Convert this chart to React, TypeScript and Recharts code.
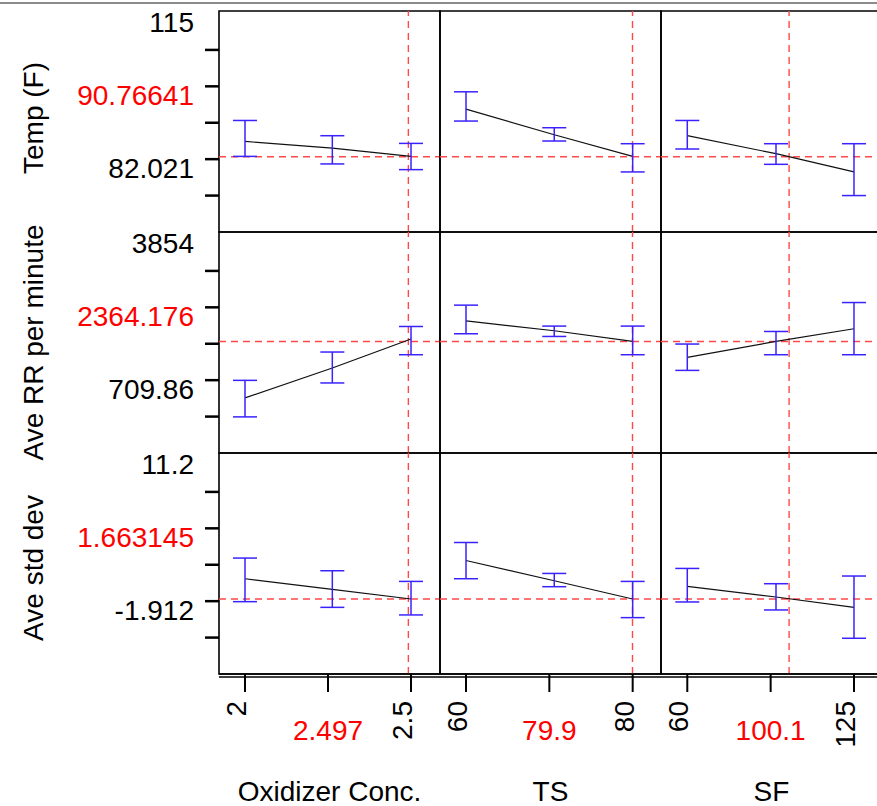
import React from 'react';
import {
  ComposedChart,
  Line,
  Scatter,
  ErrorBar,
  XAxis,
  YAxis,
  ReferenceLine,
  ReferenceArea
} from 'recharts';

const FONT = '"Liberation Sans", Arial, sans-serif';
const RED_LINE = '#ff4848';
const RED_TEXT = '#ff0000';
const BLUE = '#3a22ff';

// factors (columns)
const factorNames = ['Oxidizer Conc.', 'TS', 'SF'];
const factorTicks = [[2, 2.25, 2.5], [60, 70, 80], [60, 92.5, 125]];
const factorTickLabels = [['2', '2.497', '2.5'], ['60', '79.9', '80'], ['60', '100.1', '125']];
const factorDomains = [[1.9217, 2.5873], [56.88, 83.4], [49.75, 135.92]];
const factorCurrent = [2.492, 79.98, 99.7];
const factorLevels = [[2, 2.263, 2.5], [60, 70.59, 80], [60, 94.59, 125]];

// responses (rows)
const responseNames = ['Temp (F)', 'Ave RR per minute', 'Ave std dev'];
const responseTicks = [
  [115, 106.755, 98.51, 90.265, 82.021, 73.776],
  [3854, 3067.97, 2281.93, 1495.9, 709.86, -76.18],
  [11.2, 7.922, 4.644, 1.366, -1.912, -5.19]
];
const responseTickLabels = [
  ['115', '', '90.76641', '', '82.021', ''],
  ['3854', '', '2364.176', '', '709.86', ''],
  ['11.2', '', '1.663145', '', '-1.912', '']
];
const responseDomains = [[65.53, 115.566], [-862.2, 3907.95], [-8.468, 11.425]];
const responseCurrent = [82.58, 1545.4, -1.715];

// profile traces, one row of 3 values (low, mid, high level) per factor
const tempProfile = [[86.04, 84.5, 82.65], [93.36, 87.55, 82.65], [87.33, 83.26, 79.13]];
const tempUpper = [[90.78, 87.33, 85.59], [97.27, 89.14, 85.52], [90.78, 85.52, 85.52]];
const tempLower = [[82.65, 80.94, 79.65], [90.65, 86.13, 79.13], [84.32, 80.85, 73.78]];

const rrProfile = [[326.6, 972.6, 1597.1], [1991.2, 1775.9, 1545.4], [1200.9, 1545.4, 1819]];
const rrUpper = [[705.6, 1317.2, 1868.5], [2329.3, 1877.1, 1877.1], [1489.5, 1760.8, 2385.3]];
const rrLower = [[-82.6, 649.6, 1259], [1711.3, 1653.1, 1259], [920.9, 1259, 1259]];

const stdProfile = [[0.108, -0.853, -1.715], [1.752, -0.071, -1.715], [-0.583, -1.535, -2.469]];
const stdUpper = [[1.968, 0.827, -0.134], [3.369, 0.584, -0.134], [1.034, -0.341, 0.351]];
const stdLower = [[-1.957, -2.469, -3.152], [0.108, -0.61, -3.394], [-1.984, -2.703, -5.253]];

const profiles = [tempProfile, rrProfile, stdProfile];
const uppers = [tempUpper, rrUpper, stdUpper];
const lowers = [tempLower, rrLower, stdLower];

// layout
const PLOT = 221;
const LEFT = 219;
const TOP = 11;
const AXIS_H = 132;
const titleOffsets = [-3.5, 0, 4.5];

const makeYTick = (r: number) => (props: any) => {
  const { y, index } = props;
  const label = responseTickLabels[r][index];
  return (
    <g>
      {index > 0 && <line x1={205} x2={LEFT} y1={y} y2={y} stroke="#000" strokeWidth={2.5} />}
      {label && (
        <text x={194} y={y + 18.5} textAnchor="end" fontSize={28} fontFamily={FONT}
          fill={index === 2 ? RED_TEXT : '#000'}>
          {label}
        </text>
      )}
    </g>
  );
};

const makeXTick = (c: number) => (props: any) => {
  const { x, index } = props;
  const label = factorTickLabels[c][index];
  if (index === 1) {
    return (
      <text x={x} y={PLOT + 66} textAnchor="middle" fontSize={28} fontFamily={FONT} fill={RED_TEXT}>
        {label}
      </text>
    );
  }
  const tx = x + 1;
  const ty = PLOT + 27;
  return (
    <text x={tx} y={ty} transform={`rotate(-90 ${tx} ${ty})`} textAnchor="end" fontSize={28} fontFamily={FONT} fill="#000">
      {label}
    </text>
  );
};

const Panel = ({ r, c }: { r: number; c: number }) => {
  const isLeft = c === 0;
  const isBottom = r === 2;
  const width = PLOT + (isLeft ? LEFT : 0);
  const height = PLOT + (isBottom ? AXIS_H : 0);
  const left = isLeft ? 0 : LEFT + c * PLOT;
  const top = TOP + r * PLOT;
  const xDom = factorDomains[c];
  const yDom = responseDomains[r];

  const curve = factorLevels[c].map((x, i) => ({ x, y: profiles[r][c][i] }));
  const bars = factorLevels[c].map((x, i) => {
    const hi = uppers[r][c][i];
    const lo = lowers[r][c][i];
    return { x, y: (hi + lo) / 2, e: (hi - lo) / 2 };
  });

  const plotX = isLeft ? LEFT : 0;

  return (
    <div style={{ position: 'absolute', left, top, width, height }}>
      <ComposedChart width={width} height={height} data={curve} margin={{ top: 0, right: 0, bottom: 0, left: 0 }}>
        <XAxis
          type="number"
          dataKey="x"
          domain={xDom}
          ticks={factorTicks[c]}
          allowDataOverflow
          hide={!isBottom}
          height={AXIS_H}
          interval={0}
          tickSize={18}
          tickLine={{ stroke: '#000', strokeWidth: 2 }}
          axisLine={{ stroke: '#000', strokeWidth: 1.6 }}
          tick={makeXTick(c)}
          label={() => (
            <g>
              <line x1={plotX} x2={plotX + PLOT} y1={PLOT + 3} y2={PLOT + 3} stroke="#000" strokeWidth={1.6} />
              <text x={plotX + PLOT / 2} y={PLOT + 127} textAnchor="middle" fontSize={28} fontFamily={FONT} fill="#000">
                {factorNames[c]}
              </text>
            </g>
          )}
        />
        <YAxis
          type="number"
          dataKey="y"
          domain={yDom}
          ticks={responseTicks[r]}
          allowDataOverflow
          hide={!isLeft}
          width={LEFT}
          interval={0}
          tickLine={false}
          axisLine={false}
          tick={makeYTick(r)}
          label={() => {
            const tx = 42.5;
            const ty = PLOT / 2 + titleOffsets[r];
            return (
              <text x={tx} y={ty} transform={`rotate(-90 ${tx} ${ty})`} textAnchor="middle" fontSize={28} fontFamily={FONT} fill="#000">
                {responseNames[r]}
              </text>
            );
          }}
        />
        <ReferenceArea x1={xDom[0]} x2={xDom[1]} y1={yDom[0]} y2={yDom[1]} fill="none" stroke="#000" strokeWidth={1.6} />
        <ReferenceLine y={responseCurrent[r]} stroke={RED_LINE} strokeDasharray="7 5" strokeWidth={1.4} />
        <ReferenceLine x={factorCurrent[c]} stroke={RED_LINE} strokeDasharray="7 5" strokeWidth={1.4} />
        <Line type="linear" dataKey="y" stroke="#111" strokeWidth={1.2} dot={false} isAnimationActive={false} />
        <Scatter data={bars} dataKey="y" shape={() => <g />} isAnimationActive={false}>
          <ErrorBar dataKey="e" direction="y" width={12} stroke={BLUE} strokeWidth={1.5} isAnimationActive={false} />
        </Scatter>
      </ComposedChart>
    </div>
  );
};

export default function App() {
  const cells = [];
  for (let r = 0; r < 3; r++) {
    for (let c = 0; c < 3; c++) {
      cells.push(<Panel key={`${r}-${c}`} r={r} c={c} />);
    }
  }
  return (
    <div style={{ position: 'absolute', left: 0, top: 0, width: 877, height: 806, overflow: 'hidden', background: '#fff' }}>
      <style>{'.recharts-surface { overflow: visible; }'}</style>
      <div style={{ position: 'absolute', left: 0, top: 2, width: 877, height: 2, background: '#8c8c8c' }} />
      {cells}
    </div>
  );
}
